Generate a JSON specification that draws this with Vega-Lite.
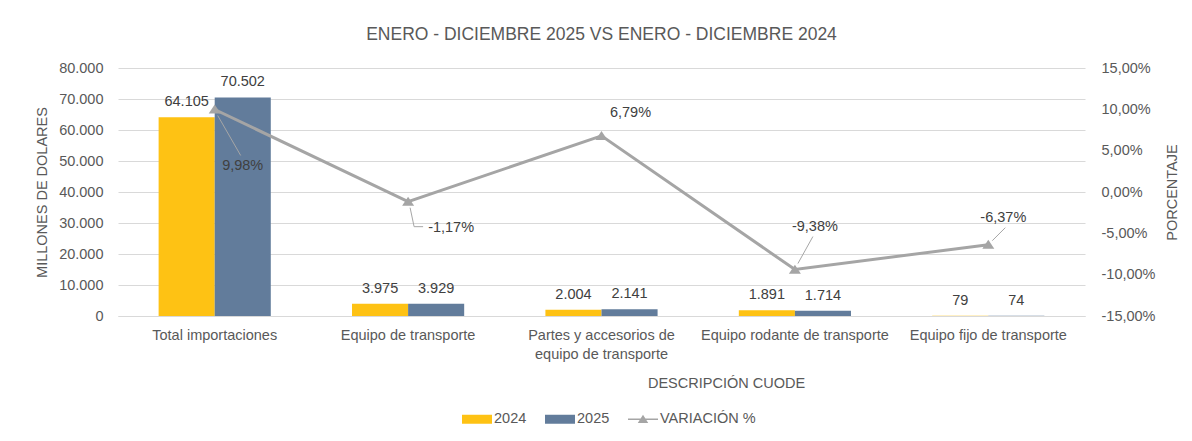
{
  "$schema": "https://vega.github.io/schema/vega-lite/v6.json",
  "width": 967,
  "height": 248,
  "autosize": {"type": "none"},
  "padding": {"left": 118, "top": 68, "right": 107, "bottom": 125},
  "background": "white",
  "title": {"text": "ENERO - DICIEMBRE 2025 VS ENERO - DICIEMBRE 2024", "anchor": "middle", "frame": "group", "fontSize": 17.5, "fontWeight": "normal", "color": "#595959", "offset": 17},
  "datasets": {
    "bars": [
      {"cat": "Total importaciones", "serie": "2024", "valor": 64105},
      {"cat": "Total importaciones", "serie": "2025", "valor": 70502},
      {"cat": "Equipo de transporte", "serie": "2024", "valor": 3975},
      {"cat": "Equipo de transporte", "serie": "2025", "valor": 3929},
      {"cat": "Partes y accesorios de equipo de transporte", "serie": "2024", "valor": 2004},
      {"cat": "Partes y accesorios de equipo de transporte", "serie": "2025", "valor": 2141},
      {"cat": "Equipo rodante de transporte", "serie": "2024", "valor": 1891},
      {"cat": "Equipo rodante de transporte", "serie": "2025", "valor": 1714},
      {"cat": "Equipo fijo de transporte", "serie": "2024", "valor": 79},
      {"cat": "Equipo fijo de transporte", "serie": "2025", "valor": 74}
    ],
    "var": [
      {"cat": "Total importaciones", "variacion": 0.0998},
      {"cat": "Equipo de transporte", "variacion": -0.0117},
      {"cat": "Partes y accesorios de equipo de transporte", "variacion": 0.0679},
      {"cat": "Equipo rodante de transporte", "variacion": -0.0938},
      {"cat": "Equipo fijo de transporte", "variacion": -0.0637}
    ]
  },
  "layer": [
    {
      "data": {"name": "bars"},
      "encoding": {
        "x": {"field": "cat", "type": "nominal", "sort": null,
          "scale": {"paddingInner": 0.42, "paddingOuter": 0.21},
          "axis": {"title": "DESCRIPCIÓN CUODE", "labelAngle": 0, "ticks": false, "labelPadding": 12, "labelLimit": 400,
            "labelExpr": "datum.label == 'Partes y accesorios de equipo de transporte' ? ['Partes y accesorios de', 'equipo de transporte'] : datum.label",
            "domainColor": "#D9D9D9", "titleX": 608, "titleY": 67, "titleAlign": "center", "titleBaseline": "middle", "labelLineHeight": 19}},
        "xOffset": {"field": "serie", "type": "nominal"},
        "y": {"field": "valor", "type": "quantitative",
          "scale": {"domain": [0, 80000], "nice": false},
          "axis": {"title": "MILLONES DE DOLARES", "values": [0, 10000, 20000, 30000, 40000, 50000, 60000, 70000, 80000], "format": ",.0f", "labelOverlap": false, "ticks": false, "domain": false, "labelPadding": 15, "titlePadding": 9, "gridColor": "#D9D9D9"}}
      },
      "layer": [
        {
          "mark": {"type": "bar"},
          "encoding": {
            "color": {"field": "serie", "type": "nominal",
              "scale": {"domain": ["2024", "2025", "VARIACIÓN %"], "range": ["#FEC214", "#627C9B", "#A5A5A5"]},
              "legend": {"title": null}}
          }
        },
        {
          "mark": {"type": "text", "baseline": "middle", "dy": -15, "fontSize": 14.5, "color": "#404040"},
          "encoding": {
            "text": {"field": "valor", "type": "quantitative", "format": ",.0f"}
          }
        }
      ]
    },
    {
      "data": {"name": "var"},
      "encoding": {
        "x": {"field": "cat", "type": "nominal", "sort": null, "bandPosition": 0.5},
        "y": {"field": "variacion", "type": "quantitative",
          "scale": {"domain": [-0.15, 0.15], "nice": false},
          "axis": {"orient": "right", "title": "PORCENTAJE", "values": [-0.15, -0.1, -0.05, 0, 0.05, 0.1, 0.15], "format": ".2%", "labelOverlap": false, "grid": false, "ticks": false, "domain": false, "labelPadding": 16, "titlePadding": 24, "titleAngle": 270}}
      },
      "layer": [
        {
          "transform": [{"filter": "datum.cat == 'Total importaciones'"}],
          "mark": {"type": "rule", "color": "#A6A6A6", "strokeWidth": 1, "xOffset": 3, "yOffset": 6, "x2Offset": 26, "y2Offset": 46},
          "encoding": {"x2": {"field": "cat"}, "y2": {"field": "variacion"}}
        },
        {
          "transform": [{"filter": "datum.cat == 'Equipo de transporte'"}],
          "mark": {"type": "rule", "color": "#A6A6A6", "strokeWidth": 1, "xOffset": 2, "yOffset": 6, "x2Offset": 6, "y2Offset": 25},
          "encoding": {"x2": {"field": "cat"}, "y2": {"field": "variacion"}}
        },
        {
          "transform": [{"filter": "datum.cat == 'Equipo de transporte'"}],
          "mark": {"type": "rule", "color": "#A6A6A6", "strokeWidth": 1, "xOffset": 6, "yOffset": 25, "x2Offset": 15, "y2Offset": 25},
          "encoding": {"x2": {"field": "cat"}, "y2": {"field": "variacion"}}
        },
        {
          "transform": [{"filter": "datum.cat == 'Equipo rodante de transporte'"}],
          "mark": {"type": "rule", "color": "#A6A6A6", "strokeWidth": 1, "xOffset": 3, "yOffset": -6, "x2Offset": 18, "y2Offset": -33},
          "encoding": {"x2": {"field": "cat"}, "y2": {"field": "variacion"}}
        },
        {
          "transform": [{"filter": "datum.cat == 'Equipo fijo de transporte'"}],
          "mark": {"type": "rule", "color": "#A6A6A6", "strokeWidth": 1, "xOffset": 4, "yOffset": -4, "x2Offset": 17, "y2Offset": -17},
          "encoding": {"x2": {"field": "cat"}, "y2": {"field": "variacion"}}
        },
        {
          "mark": {"type": "line", "color": "#A5A5A5", "strokeWidth": 3}
        },
        {
          "mark": {"type": "point", "shape": "M0,-0.65L0.8,0.55H-0.8Z", "size": 225, "filled": true, "opacity": 1, "color": "#A5A5A5"}
        },
        {
          "transform": [{"filter": "false"}],
          "mark": {"type": "point", "filled": true, "opacity": 1},
          "encoding": {
            "color": {"datum": "VARIACIÓN %", "type": "nominal"},
            "shape": {"datum": "VARIACIÓN %", "type": "nominal",
              "scale": {"domain": ["2024", "2025", "VARIACIÓN %"], "range": ["M-1,-0.3H1V0.3H-1Z", "M-1,-0.3H1V0.3H-1Z", "M-1,-0.05H1V0.05H-1Z M0,-0.3L0.35,0.25H-0.35Z"]},
              "legend": {"title": null}}
          }
        },
        {
          "transform": [{"filter": "datum.cat == 'Total importaciones'"}],
          "mark": {"type": "text", "dx": 28, "dy": 57, "fontSize": 14.5, "color": "#404040"},
          "encoding": {"text": {"field": "variacion", "type": "quantitative", "format": ".2%"}}
        },
        {
          "transform": [{"filter": "datum.cat == 'Equipo de transporte'"}],
          "mark": {"type": "text", "dx": 43, "dy": 26, "fontSize": 14.5, "color": "#404040"},
          "encoding": {"text": {"field": "variacion", "type": "quantitative", "format": ".2%"}}
        },
        {
          "transform": [{"filter": "datum.cat == 'Partes y accesorios de equipo de transporte'"}],
          "mark": {"type": "text", "dx": 29, "dy": -23, "fontSize": 14.5, "color": "#404040"},
          "encoding": {"text": {"field": "variacion", "type": "quantitative", "format": ".2%"}}
        },
        {
          "transform": [{"filter": "datum.cat == 'Equipo rodante de transporte'"}],
          "mark": {"type": "text", "dx": 20, "dy": -43, "fontSize": 14.5, "color": "#404040"},
          "encoding": {"text": {"field": "variacion", "type": "quantitative", "format": ".2%"}}
        },
        {
          "transform": [{"filter": "datum.cat == 'Equipo fijo de transporte'"}],
          "mark": {"type": "text", "dx": 15, "dy": -27, "fontSize": 14.5, "color": "#404040"},
          "encoding": {"text": {"field": "variacion", "type": "quantitative", "format": ".2%"}}
        }
      ]
    }
  ],
  "resolve": {"scale": {"y": "independent"}},
  "config": {
    "locale": {"number": {"decimal": ",", "thousands": ".", "grouping": [3], "currency": ["", "$"], "minus": "-"}},
    "font": "Liberation Sans",
    "view": {"stroke": null},
    "axis": {"labelFont": "Liberation Sans", "titleFont": "Liberation Sans", "labelFontSize": 14.5, "titleFontSize": 14.5, "titleFontWeight": "normal", "labelColor": "#595959", "titleColor": "#595959"},
    "text": {"font": "Liberation Sans"},
    "title": {"font": "Liberation Sans"},
    "legend": {"orient": "none", "legendX": 344, "legendY": 336, "direction": "horizontal", "symbolSize": 900, "symbolStrokeWidth": 0, "symbolOpacity": 1, "labelFont": "Liberation Sans", "labelFontSize": 14.5, "labelColor": "#595959", "labelOffset": 2, "columnPadding": 18, "padding": 0}
  }
}
